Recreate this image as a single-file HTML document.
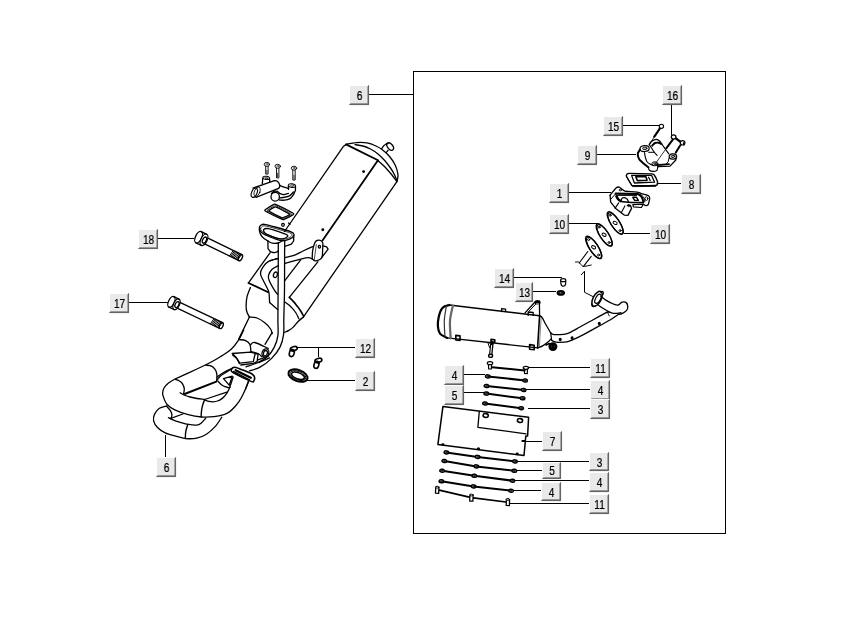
<!DOCTYPE html>
<html><head><meta charset="utf-8"><title>Exhaust</title>
<style>
html,body{margin:0;padding:0;background:#fff;}
body{width:854px;height:620px;overflow:hidden;position:relative;font-family:"Liberation Sans",Arial,sans-serif;}
svg{position:absolute;left:0;top:0;}
.d path,.d line,.d ellipse,.d circle,.d polyline,.d polygon,.d rect{fill:none;stroke:#000;stroke-width:1.3;stroke-linecap:round;stroke-linejoin:round}
</style></head><body>
<svg width="854" height="620" viewBox="0 0 854 620">
<rect x="413.5" y="71.5" width="312" height="462" fill="none" stroke="#000" stroke-width="1"/>
<g stroke="#000" stroke-width="1" shape-rendering="crispEdges">
<line x1="369" y1="94.5" x2="413" y2="94.5"/>
<line x1="158" y1="238.5" x2="194" y2="238.5"/>
<line x1="129" y1="302.5" x2="168" y2="302.5"/>
<line x1="296" y1="347.5" x2="355" y2="347.5"/>
<line x1="318.5" y1="347" x2="318.5" y2="357"/>
<line x1="307" y1="380.5" x2="355" y2="380.5"/>
<line x1="165.5" y1="435" x2="165.5" y2="457"/>
<line x1="671.5" y1="105" x2="671.5" y2="135"/>
<line x1="623" y1="125.5" x2="659" y2="125.5"/>
<line x1="597" y1="154.5" x2="636" y2="154.5"/>
<line x1="658" y1="183.5" x2="681" y2="183.5"/>
<line x1="569" y1="192.5" x2="611" y2="192.5"/>
<line x1="569" y1="223.5" x2="599" y2="223.5"/>
<line x1="624" y1="233.5" x2="650" y2="233.5"/>
<line x1="514" y1="277.5" x2="562" y2="277.5"/>
<line x1="533" y1="291.5" x2="556" y2="291.5"/>
<line x1="464" y1="374.5" x2="485" y2="374.5"/>
<line x1="464" y1="392.5" x2="484" y2="392.5"/>
<line x1="529" y1="367.5" x2="590" y2="367.5"/>
<line x1="526" y1="389.5" x2="590" y2="389.5"/>
<line x1="528" y1="408.5" x2="590" y2="408.5"/>
<line x1="526" y1="441.5" x2="542" y2="441.5"/>
<line x1="517" y1="461.5" x2="589" y2="461.5"/>
<line x1="516" y1="470.5" x2="542" y2="470.5"/>
<line x1="515" y1="480.5" x2="589" y2="480.5"/>
<line x1="513" y1="490.5" x2="541" y2="490.5"/>
<line x1="510" y1="503.5" x2="589" y2="503.5"/>
</g>
<g class="d">
<path d="M346,144.6 L343.6,146.2 L284.5,231.5"/>
<path d="M346,144.4 L378,160.3" style="stroke-width:1.8"/>
<path d="M377.8,160.6 L322.5,240.4" style="stroke-width:1.8"/>
<path d="M346,144.4 C347.7,144.1 352.5,142.8 356,142.6 C359.5,142.3 363.7,142.3 367,142.9 C370.3,143.5 373.3,144.8 376,146 C378.7,147.2 380.7,148.4 383,150.2 C385.3,152 387.9,154.4 390,157 C392.1,159.6 394.2,162.9 395.5,165.7 C396.8,168.5 397.5,171.8 397.9,174 C398.2,176.2 397.8,177.7 397.6,179 C397.4,180.3 397,181.2 396.9,181.6"/>
<path d="M355,144.6 C356.3,144.8 360.4,145.3 363,146 C365.6,146.7 368,147.7 370.5,149 C373,150.3 375.7,152.1 378,154 C380.3,155.9 382.4,158 384.5,160.3 C386.6,162.6 388.8,165.6 390.5,168 C392.2,170.4 393.5,172.8 394.5,174.8 C395.5,176.8 396.2,179 396.6,179.8"/>
<path d="M378,160.6 C379,161.5 382.2,164.2 384,166 C385.8,167.8 387.4,169.7 389,171.5 C390.6,173.3 392.2,175.3 393.5,177 C394.8,178.7 396.2,180.8 396.8,181.6"/>
<path d="M396.9,181.6 L303.3,317.2"/>
<path d="M381.6,148.8 C382,148.2 383.1,146.4 384,145.5 C384.9,144.6 386.5,143.8 387,143.4"/>
<ellipse cx="390.2" cy="146.6" rx="2.6" ry="4.2" transform="rotate(-38 390.2 146.6)"/>
<path d="M388,150.3 L386.2,152.6"/>
<path d="M388.5,143 C388.3,143.1 387.6,143.1 387.2,143.3 C386.8,143.5 386.4,144.2 386.3,144.4"/>
<ellipse cx="363.6" cy="171.6" rx="0.8" ry="0.8" style="fill:#000;"/>
<ellipse cx="322.8" cy="229.8" rx="0.8" ry="0.8" style="fill:#000;"/>
<path d="M312.2,258.8 C312.3,257.5 312.2,253.6 312.6,251 C313,248.4 313.9,244.9 314.6,243.2 C315.3,241.5 315.9,241.1 316.6,240.6 C317.3,240.1 318.2,240 319,240.1 C319.8,240.2 320.9,240.4 321.5,241 C322.1,241.6 322.6,241.9 322.8,243.4 C323,244.9 322.7,247.9 322.6,250 C322.5,252.1 322.6,254.4 322.3,255.9 C322,257.4 321.8,258 320.9,258.8 C320,259.6 318.1,260.3 317,260.6 C315.9,260.9 315.2,260.9 314.4,260.6 C313.6,260.3 312.6,259.1 312.2,258.8"/>
<path d="M314.3,259.5 L316.3,244.5" style="stroke-width:0.7"/>
<path d="M323.3,245.8 L326.6,246.8 L328.1,249.2 L322,257.2"/>
<ellipse cx="319.4" cy="246.8" rx="1.1" ry="1.4"/>
<path d="M312.6,246.6 C311,247.3 306.1,249.5 303,251 C299.9,252.5 297,254.3 294,255.4 C291,256.5 286.5,257.2 285,257.6"/>
<path d="M312.2,258.8 C311.6,258.6 310.1,257.7 308.4,257.7 C306.6,257.7 304.3,258.2 301.7,258.8 C299.1,259.4 295.8,260.2 293,261 C290.2,261.8 286.3,262.9 285,263.3"/>
<path d="M278,258.4 C277.3,258.6 275.3,259.1 274,259.5 C272.7,259.9 270.7,260.6 270,260.8"/>
<path d="M278.3,250.5 C278.3,257.1 278.2,278.4 278.1,290 C278,301.6 277.9,312.4 277.9,320 C277.9,327.6 278.5,331.2 277.9,335.7 C277.3,340.2 276.1,343.5 274.3,347.1 C272.5,350.7 270,354.5 267.1,357.1 C264.2,359.7 260.6,361.3 257.1,362.9 C253.6,364.5 247.8,366.2 246,366.9"/>
<path d="M284.6,249 C284.6,255.8 284.6,278.2 284.5,290 C284.4,301.8 283.9,312.6 283.8,320 C283.7,327.4 284.2,329.8 283.6,334.3 C283,338.8 282,343.1 280,347.1 C278,351.2 274.7,355.3 271.4,358.6 C268.1,361.9 263.6,365.1 260,367.1 C256.4,369.2 251.2,370.3 249.5,370.9"/>
<path d="M300.7,259.8 L284.8,280.6"/>
<path d="M318,261.7 L289.3,297.4"/>
<path d="M289.3,297.4 C290,298.1 292.1,300.1 293.5,301.6 C294.9,303.1 296.2,304.9 297.5,306.5 C298.8,308.1 300,309.9 301,311.5 C302,313.1 303.2,315.6 303.7,316.4" style="stroke-width:1.6"/>
<path d="M285.2,302.2 C285.8,302.7 287.8,303.9 289,305 C290.2,306.1 291.4,307.3 292.6,308.6 C293.8,309.9 294.9,311.3 296,313 C297.1,314.7 298.4,317.8 298.9,318.7"/>
<path d="M303.3,317.2 C302.5,317.9 300.1,319.5 298.4,321.2 C296.7,322.9 294.6,325.8 293,327.4 C291.4,329 289.9,329.8 288.5,330.6 C287.1,331.4 285.2,332 284.5,332.3"/>
<path d="M284.5,231.5 L270.2,252.5" opacity="0"/>
<path d="M270,252.9 L248.5,282.8"/>
<path d="M248.5,283 L268.2,292.2" style="stroke-width:1.8"/>
<path d="M277.9,258.6 C276.3,259.1 271.1,260 268.6,261.4 C266.1,262.8 264.2,265 262.9,267.1 C261.5,269.2 260.4,271.4 260.5,273.8 C260.6,276.2 262.5,278.8 263.8,281.5 C265.1,284.2 267.3,288 268.2,290.2 C269.1,292.4 269,292.4 269.2,294.5 C269.4,296.6 269.5,301.2 269.6,302.6"/>
<path d="M269.6,302.6 L277.6,309.6"/>
<path d="M278.2,265.7 C277.2,266.3 273.7,267.7 272.1,269.3 C270.5,270.9 269,273.5 268.5,275.4 C268,277.3 268.3,278.3 269.3,280.8 C270.3,283.3 273,287.9 274.4,290.2 C275.8,292.5 277.1,293.7 277.6,294.4"/>
<ellipse cx="275.4" cy="274.8" rx="1.9" ry="2.8" transform="rotate(18 275.4 274.8)"/>
<path d="M250.4,287.6 C249.8,289.2 247.7,293.8 247,296.9 C246.3,300 246.1,303.9 246.1,306.5 C246.1,309.1 246.4,310.4 247,312.2 C247.6,313.9 249,316.2 249.4,317"/>
<path d="M249.4,317 C250.7,317.2 254.5,317 257.1,318 C259.7,319 262.6,321 264.8,322.8 C267.1,324.6 269.4,327.2 270.6,329 C271.8,330.8 271.9,332.8 272.2,333.6"/>
<path d="M249.4,317 L238.6,339.4"/>
<path d="M272.1,332.6 L265,344.3"/>
<path d="M243.7,330 C242.9,331.6 241,336.4 238.9,339.6 C236.8,342.8 234.1,346.5 231.2,349.2 C228.3,351.9 224.9,353.8 221.6,355.9 C218.3,358 216.7,359.2 211.3,362 C205.9,364.8 195.1,369.9 189.2,372.6 C183.3,375.4 179.4,376.8 176,378.5 C172.6,380.2 170.5,381.4 168.5,383 C166.5,384.6 165,386.3 164,388 C163,389.7 162.7,391.4 162.6,393 C162.5,394.6 162.9,395.9 163.7,397.8 C164.4,399.7 165.2,402.5 167.1,404.5 C168.9,406.5 171.3,408.1 174.8,409.8 C178.3,411.5 183.7,413.4 188.2,414.6 C192.7,415.8 197.3,416.6 201.6,417 C205.9,417.4 210.4,417.1 214.1,416.7 C217.8,416.3 221.4,415.4 224,414.6 C226.6,413.8 227.7,413.2 229.5,411.9 C231.3,410.6 233.2,408.6 234.8,406.8 C236.4,405.1 237.7,403.4 239.1,401.4 C240.5,399.3 241.9,396.8 243,394.5 C244.1,392.2 245,390.1 245.9,387.9 C246.8,385.7 248,382.3 248.4,381.2"/>
<path d="M206,365.2 C206.7,365.3 208.8,365.2 210,365.6 C211.2,366 212.2,366.4 213.2,367.3 C214.2,368.2 215.4,369.6 216,371 C216.6,372.4 216.9,374.3 217,376 C217.1,377.7 216.7,380.5 216.6,381.4"/>
<path d="M175.5,379.3 C176.2,379.6 178.3,380.3 179.5,381 C180.7,381.7 181.6,382.3 182.4,383.6 C183.2,384.9 184.1,386.9 184.3,388.6 C184.5,390.3 183.7,392.8 183.6,393.6"/>
<path d="M184.6,394 L216.3,381.6" style="stroke-width:2"/>
<path d="M180.1,392.7 C180.8,393.1 182.3,394.3 184,395 C185.7,395.7 187.9,396.4 190.1,397 C192.3,397.6 194.6,398.1 197,398.5 C199.4,398.9 203.3,399.3 204.6,399.5"/>
<path d="M204.6,399.5 L226.8,392.2"/>
<path d="M204.6,399.9 C205.3,400.1 207.6,401.1 209,401.4 C210.4,401.7 211.8,401.9 213.2,401.8 C214.6,401.7 216.2,401.4 217.5,401 C218.8,400.6 219.8,400.1 220.9,399.4 C222,398.7 223.1,397.8 224,396.8 C224.9,395.9 225.8,394.9 226.6,393.7 C227.4,392.5 228.2,391.1 228.8,389.6 C229.5,388.2 230,386.5 230.5,385 C231,383.5 231.6,381.8 232,380.5 C232.4,379.2 233,377.6 233.2,377"/>
<path d="M217,380.2 C217.5,379.6 218.5,377.7 219.9,376.4 C221.3,375.1 223.4,373.9 225.5,372.6 C227.6,371.3 231.2,369.2 232.4,368.5"/>
<path d="M218,381.2 C218.6,381.8 220.6,384.1 221.8,385 C223,385.9 223.9,386.2 225,386.6 C226.1,387 227.4,387.5 228.3,387.6 C229.2,387.7 229.9,387.3 230.2,387.2"/>
<path d="M223.5,378.6 L232.3,376.2 L229.2,385.2 Z" style="fill:none"/>
<path d="M204.6,399.9 C204.3,400.6 203.4,402.8 203,404 C202.6,405.2 202.4,406.1 202.1,407.4 C201.8,408.7 201.6,410.4 201.4,412 C201.2,413.6 201.2,416 201.2,416.8" style="stroke-width:1.4"/>
<path d="M166.6,405.9 C165.4,406.3 161.4,406.9 159.4,408.3 C157.4,409.7 155.6,412 154.6,414.1 C153.6,416.2 153.1,418.6 153.6,420.8 C154.1,423 155.6,425.5 157.5,427.5 C159.4,429.5 162.2,431.4 165.2,432.8 C168.2,434.2 172.2,435.2 175.7,436.2 C179.2,437.2 182.8,438.3 186.3,438.6 C189.8,438.9 193.5,438.8 196.8,438.1 C200.2,437.4 203.4,436.1 206.4,434.2 C209.4,432.3 212.5,429.4 215.1,426.6 C217.7,423.8 220.7,418.8 221.8,417.2"/>
<path d="M166.6,406.2 C167.2,406.9 169.5,409.2 170.4,410.7 C171.3,412.2 171.9,413.7 171.9,415 C171.9,416.3 171.2,418 170.6,418.4 C170,418.8 168.8,417.7 168.4,417.6"/>
<path d="M170.4,418.9 C171.4,419.3 173.9,420.4 176.7,421.3 C179.5,422.2 183.8,423.6 187.2,424.2 C190.5,424.8 194.4,425.4 196.8,425.1 C199.2,424.9 200.1,423.9 201.6,422.7 C203.1,421.5 205,418.9 205.7,418.2"/>
<path d="M170.9,418.4 L182.9,414"/>
<path d="M187.7,424.6 C187.4,425.7 186.2,429.1 185.8,431.4 C185.4,433.7 185.4,437.4 185.3,438.6" style="stroke-width:1.4"/>
<path d="M239.4,339.6 C240.4,339.8 243.8,339.8 245.6,340.6 C247.3,341.4 249,342.6 249.9,344.4 C250.8,346.2 250.7,350.2 250.9,351.4"/>
<path d="M250.9,344.6 C251.5,344.2 251.8,341.9 254.7,342.5 C257.6,343.1 265.9,347.4 268.2,348.4"/>
<ellipse cx="265.4" cy="353" rx="3.3" ry="4.3" transform="rotate(20 265.4 353)"/>
<ellipse cx="265.4" cy="353.2" rx="1.9" ry="2.7" transform="rotate(20 265.4 353.2)"/>
<path d="M250.9,351.6 C252.1,351.9 256.3,352.7 258.1,353.5 C259.9,354.3 261,356.1 261.6,356.6"/>
<path d="M232.2,353.5 L250.4,352.1 L255.2,353.5 L253.3,361.7 L239.8,363.1 L236.5,357.8 Z"/>
<path d="M255.2,353.5 L258.1,354 L257.1,361.7 L253.3,363.3 L240.8,365"/>
<path d="M232.6,355 C233.3,355.6 235.9,357.4 237,358.8 C238.1,360.2 239,362.8 239.4,363.6"/>
<path d="M258.1,359.8 L268.6,355.9"/>
<path d="M258.6,362.6 L269.6,357.8"/>
<path d="M232.6,367.9 C233.1,367.6 234,366.8 236,367.4 C238,368 250.4,373.1 252.3,374.2 C254.2,375.3 254.6,377.2 254.7,378 C254.8,378.8 253.8,381.5 253.3,381.8 C252.8,382.1 252,381.9 249.9,380.9 C247.8,379.9 234.5,373.3 232.6,372.2 C230.7,371.1 231.2,370.7 231.2,370.3 C231.2,369.9 232.1,368.2 232.6,367.9 Z" style="stroke-width:1.6"/>
<path d="M235.6,370.2 L250.8,377.8" style="stroke-width:2.2"/>
<path d="M233.4,371.4 L249.6,379.8" style="stroke-width:1.2"/>
<path d="M216.9,377 C218.1,376.2 221.4,373.6 224,372.2 C226.6,370.8 230.8,369 232.2,368.4"/>
<path d="M248.5,381.8 L245.6,389"/>
<path d="M202.5,242.8 L239,260.6"/>
<path d="M205.4,236.9 L241.8,254.6"/>
<ellipse cx="240.4" cy="257.6" rx="1.8" ry="3.3" transform="rotate(26 240.4 257.6)"/>
<path d="M229.5,256 L233.3,250.5" style="stroke-width:1.0"/>
<path d="M230.7,256.5 L234.5,251" style="stroke-width:1.0"/>
<path d="M231.9,257.1 L235.6,251.6" style="stroke-width:1.0"/>
<path d="M233,257.7 L236.8,252.2" style="stroke-width:1.0"/>
<path d="M234.2,258.2 L238,252.7" style="stroke-width:1.0"/>
<path d="M235.4,258.8 L239.2,253.3" style="stroke-width:1.0"/>
<path d="M236.5,259.4 L240.3,253.9" style="stroke-width:1.0"/>
<path d="M237.7,260 L241.5,254.5" style="stroke-width:1.0"/>
<ellipse cx="198.6" cy="237.2" rx="3.1" ry="6.2" transform="rotate(26 198.6 237.2)"/>
<ellipse cx="204" cy="239.8" rx="3.1" ry="6.2" transform="rotate(26 204 239.8)" style="fill:#fff;"/>
<ellipse cx="204.5" cy="240.1" rx="1.8" ry="3.3" transform="rotate(26 204.5 240.1)"/>
<path d="M195.9,242.8 L201.3,245.4"/>
<path d="M201.3,231.6 L206.7,234.3"/>
<path d="M175.1,307.2 L219.8,328.5"/>
<path d="M177.8,301.4 L222.6,322.7"/>
<ellipse cx="221.2" cy="325.6" rx="1.8" ry="3.2" transform="rotate(25.4 221.2 325.6)"/>
<path d="M210.3,324 L214,318.6" style="stroke-width:1.0"/>
<path d="M211.5,324.5 L215.2,319.2" style="stroke-width:1.0"/>
<path d="M212.7,325.1 L216.3,319.7" style="stroke-width:1.0"/>
<path d="M213.9,325.7 L217.5,320.3" style="stroke-width:1.0"/>
<path d="M215,326.2 L218.7,320.9" style="stroke-width:1.0"/>
<path d="M216.2,326.8 L219.9,321.4" style="stroke-width:1.0"/>
<path d="M217.4,327.3 L221,322" style="stroke-width:1.0"/>
<path d="M218.6,327.9 L222.2,322.5" style="stroke-width:1.0"/>
<ellipse cx="171.4" cy="301.9" rx="2.9" ry="5.8" transform="rotate(25.4 171.4 301.9)"/>
<ellipse cx="176.5" cy="304.3" rx="2.9" ry="5.8" transform="rotate(25.4 176.5 304.3)" style="fill:#fff;"/>
<ellipse cx="177" cy="304.6" rx="1.8" ry="3.2" transform="rotate(25.4 177 304.6)"/>
<path d="M168.9,307.1 L174,309.5"/>
<path d="M173.9,296.7 L178.9,299.1"/>
<path d="M259.3,228.2 C259.2,227 259.9,226 260.8,225.3 C261.7,224.7 262.1,224 264.5,224.3 C266.9,224.6 270.6,225.8 275,227 C279.4,228.2 287.8,230.5 291,231.8 C294.2,233.1 293.8,233.6 294,234.6 C294.2,235.6 293.4,236.7 292.2,237.6 C290.9,238.5 288.4,239.7 286.5,240.2 C284.6,240.7 283.9,241.1 281.1,240.6 C278.4,240.1 273.3,238.3 270,237 C266.7,235.7 263.3,234.1 261.5,232.6 C259.7,231.1 259.4,229.4 259.3,228.2 Z" style="stroke-width:1.3"/>
<path d="M263.8,229.4 C264.4,228.7 266.6,228.4 268.5,228.6 C270.4,228.8 272.9,229.8 275.5,230.6 C278.1,231.4 281.9,232.8 284,233.6 C286.1,234.4 287.5,234.9 287.8,235.6 C288.1,236.3 287.1,237.2 286,237.8 C284.9,238.4 283.1,238.8 281.5,238.9 C279.9,239 278.7,238.8 276.5,238.2 C274.3,237.6 270.5,236.1 268.5,235.2 C266.5,234.3 265.4,233.6 264.6,232.6 C263.8,231.6 263.2,230.1 263.8,229.4 Z"/>
<path d="M259.3,229.5 C259.4,230.2 259.6,232.3 260.2,233.6 C260.8,234.9 261.3,236 262.6,237.2 C263.9,238.4 267,240.4 267.9,241"/>
<path d="M267.9,241 L268,248.6 L270.3,251.6"/>
<path d="M270.3,251.6 C271,251.8 273.2,252.7 274.5,252.6 C275.8,252.5 277.7,251.4 278.3,251.2"/>
<path d="M278.3,243 L278.3,251.2"/>
<path d="M293.8,235.6 L293.6,241 L291.4,244.2 L284.8,246.4"/>
<path d="M267.9,241 C268.7,241.4 270.8,242.9 272.5,243.2 C274.2,243.5 276.8,243.4 278.3,243 C279.8,242.6 281,241.3 281.5,241"/>
<path d="M284.7,241.5 L284.7,248.8"/>
<path d="M260.6,228.6 C260.5,227.7 261.3,227 262,226.6 C262.7,226.2 262.8,225.6 265,225.9 C267.2,226.2 270.9,227.2 275,228.4 C279.1,229.6 286.8,231.7 289.6,232.8 C292.4,233.9 291.8,234.1 292,234.8 C292.2,235.5 291.6,236.1 290.6,236.8 C289.6,237.5 287.4,238.5 285.8,238.9 C284.2,239.3 283.7,239.7 281.2,239.2 C278.7,238.7 273.7,237 270.6,235.8 C267.5,234.6 264.3,233 262.6,231.8 C260.9,230.6 260.7,229.5 260.6,228.6 Z" style="stroke-width:0.8"/>
<path d="M265.5,211.2 C264.1,210.4 265.2,209.9 265.9,209.3 C266.6,208.8 272.6,205 273.4,204.6 C274.2,204.2 274,203.6 275.6,204.3 C277.2,205 290.9,211.9 292.4,212.8 C293.9,213.7 294,214.1 293.4,214.6 C292.8,215.1 285.5,218.8 284.6,219.2 C283.7,219.6 284,220.1 282.4,219.4 C280.8,218.7 266.9,212 265.5,211.2 Z" style="stroke-width:1.3"/>
<path d="M269.3,211.2 C268.3,210.6 269.4,210.2 269.8,209.9 C270.2,209.6 274.1,207.4 274.6,207.2 C275.1,207 275,206.7 276.2,207.2 C277.4,207.7 287.7,213 288.8,213.6 C289.9,214.2 289.9,214.5 289.4,214.8 C288.9,215.1 283.8,217.4 283.2,217.6 C282.6,217.8 282.8,218.1 281.6,217.6 C280.4,217.1 270.3,211.8 269.3,211.2 Z"/>
<path d="M267.4,211.2 C266.2,210.5 267.3,210.2 267.9,209.8 C268.4,209.4 273.3,206.3 274,206 C274.7,205.7 274.5,205.2 275.9,205.8 C277.3,206.4 289.3,212.5 290.6,213.2 C291.9,213.9 292,214.3 291.4,214.7 C290.8,215.1 284.7,218.1 283.9,218.4 C283.1,218.7 283.4,219.1 282,218.5 C280.6,217.9 268.6,211.9 267.4,211.2 Z" style="stroke-width:0.8"/>
<ellipse cx="283" cy="224.8" rx="1.3" ry="1.5"/>
<path d="M288.6,223 L290,224.4"/>
<ellipse cx="254.3" cy="192.7" rx="2.7" ry="4.9" transform="rotate(22 254.3 192.7)" style="stroke-width:1.1;"/>
<ellipse cx="257.2" cy="191.6" rx="2.7" ry="4.9" transform="rotate(22 257.2 191.6)" style="stroke-width:0.8;"/>
<path d="M253,188.1 L274.4,180.6"/>
<path d="M256,197.4 L278,188.6"/>
<path d="M274.4,180.6 C274.9,180.7 276.7,180.7 277.6,181.4 C278.5,182.1 279.3,183.6 279.6,184.6 C279.9,185.6 279.7,186.7 279.4,187.4 C279.1,188.1 278.2,188.4 278,188.6"/>
<path d="M262.3,183.6 L262.8,178.2"/>
<ellipse cx="266.2" cy="177.9" rx="3.4" ry="1.6" transform="rotate(8 266.2 177.9)" style="stroke-width:1.0;"/>
<path d="M269.6,178.6 L269.7,181.6"/>
<ellipse cx="266.2" cy="178" rx="1.5" ry="0.7" transform="rotate(8 266.2 178)" style="stroke-width:0.6;"/>
<ellipse cx="291.9" cy="185.6" rx="3.6" ry="1.8" transform="rotate(8 291.9 185.6)" style="stroke-width:1.0;"/>
<ellipse cx="291.9" cy="185.6" rx="1.6" ry="0.8" transform="rotate(8 291.9 185.6)" style="stroke-width:0.6;"/>
<path d="M288.3,186 L288.6,189.4"/>
<path d="M295.5,186 L295.4,190.5 L293.6,194.5"/>
<path d="M279.6,185.4 C280.3,185.7 282.5,186.7 284,187.2 C285.5,187.7 287.7,188.4 288.4,188.6"/>
<path d="M293.6,194.5 C293,195.2 291.5,197.7 290,198.6 C288.5,199.5 286.2,200 284.5,200.2 C282.8,200.4 280.3,200 279.5,200"/>
<path d="M280,198 C280.8,197.9 283.4,197.6 285,197.2 C286.6,196.8 288.4,196.5 289.8,195.6 C291.2,194.7 292.8,192.6 293.4,192"/>
<ellipse cx="275.2" cy="196.8" rx="4.2" ry="4.4"/>
<path d="M271.5,193.6 C271.9,193.2 273,191.8 274,191.4 C275,191 276.5,191 277.4,191.4 C278.3,191.8 279.2,193.2 279.6,193.6"/>
<path d="M279.4,193.2 C280.1,193.4 282,194.6 283.5,194.6 C285,194.6 287.6,193.6 288.4,193.4"/>
<ellipse cx="266.9" cy="164.4" rx="2.7" ry="2" style="stroke-width:0.9;fill:#fff;"/>
<ellipse cx="266.9" cy="164.2" rx="1.1" ry="0.7" style="stroke-width:0.5;"/>
<path d="M265.7,166.3 L265.7,174 L268.1,174 L268.1,166.3" style="stroke-width:0.9"/>
<path d="M266.9,170.4 L266.9,173.7" style="stroke-width:1.4;stroke:#555"/>
<ellipse cx="277.7" cy="166.3" rx="2.7" ry="2" style="stroke-width:0.9;fill:#fff;"/>
<ellipse cx="277.7" cy="166.1" rx="1.1" ry="0.7" style="stroke-width:0.5;"/>
<path d="M276.5,168.2 L276.5,177.9 L278.9,177.9 L278.9,168.2" style="stroke-width:0.9"/>
<path d="M277.7,173.5 L277.7,177.6" style="stroke-width:1.4;stroke:#555"/>
<ellipse cx="294" cy="168.2" rx="2.7" ry="2" style="stroke-width:0.9;fill:#fff;"/>
<ellipse cx="294" cy="168" rx="1.1" ry="0.7" style="stroke-width:0.5;"/>
<path d="M292.8,170.1 L292.8,180 L295.2,180 L295.2,170.1" style="stroke-width:0.9"/>
<path d="M294,175.5 L294,179.7" style="stroke-width:1.4;stroke:#555"/>
<ellipse cx="293.8" cy="348.6" rx="3.6" ry="2" transform="rotate(-15 293.8 348.6)" style="stroke-width:1.6;"/>
<ellipse cx="291.8" cy="353" rx="2.4" ry="3.6" transform="rotate(15 291.8 353)" style="stroke-width:1.6;"/>
<path d="M291.1,350.4 L294.6,351.8" style="stroke-width:1.2"/>
<ellipse cx="318.4" cy="360.4" rx="3.6" ry="2" transform="rotate(-15 318.4 360.4)" style="stroke-width:1.6;"/>
<ellipse cx="316.4" cy="364.8" rx="2.4" ry="3.6" transform="rotate(15 316.4 364.8)" style="stroke-width:1.6;"/>
<path d="M315.7,362.2 L319.2,363.6" style="stroke-width:1.2"/>
<ellipse cx="298" cy="375.6" rx="10" ry="5.6" transform="rotate(20 298 375.6)" style="stroke-width:1.9;"/>
<ellipse cx="298" cy="375.8" rx="6.8" ry="3.1" transform="rotate(20 298 375.8)" style="stroke-width:1.5;"/>
<ellipse cx="298" cy="375.7" rx="8.4" ry="4.3" transform="rotate(20 298 375.7)" style="stroke-width:0.9;"/><path d="M449.3,305 L539.6,315.7" style="stroke-width:1.4"/>
<path d="M447.1,337.9 L537.9,347.9" style="stroke-width:1.4"/>
<path d="M449.3,305 C448.1,305.5 444.1,306 442.4,307.9 C440.6,309.8 439.6,313.3 438.8,316.4 C438.1,319.5 437.7,323.5 437.9,326.4 C438.1,329.3 438.5,331.7 440,333.6 C441.5,335.5 445.9,337.2 447.1,337.9" style="stroke-width:2.2"/>
<path d="M446.4,306.2 C446,308.6 444.5,315.6 444.3,320.7 C444.1,325.8 444.9,334.3 445,337" style="stroke-width:1.2;stroke:#333"/>
<path d="M452.9,305.6 C452.4,308.1 450.4,315.2 450,320.7 C449.6,326.2 450.6,335.4 450.7,338.4" style="stroke-width:2.2;stroke:#666"/>
<path d="M539.6,315.7 L537.6,347.9" style="stroke-width:1.6"/>
<path d="M541.2,316.5 L539.4,346.6" style="stroke-width:0.8;stroke:#666"/>
<path d="M501.6,311.6 L501.6,308.6 L505.6,309.1 L505.6,311.6" style="stroke-width:1.3"/>
<path d="M528.2,315.4 L528.2,312 L533.2,312.5 L533.2,315.4" style="stroke-width:1.3"/>
<path d="M455.8,335.4 L455.8,340 L460,340.5 L460,335.9 Z" style="stroke-width:1.6"/>
<path d="M491,339.4 L491,341.8 L494.8,342.2 L494.8,339.8 Z" style="stroke-width:1.6"/>
<path d="M529.6,344.6 L529.6,349.2 L534.2,349.7 L534.2,345.2 Z" style="stroke-width:1.6"/>
<path d="M525,312.9 L535.2,301.8 L539.4,302.3 L539.6,315.7" style="stroke-width:1.3"/>
<path d="M529,311.2 L536.4,303.4" style="stroke-width:1.0"/>
<ellipse cx="537.6" cy="302.4" rx="2.2" ry="1.5" style="stroke-width:1.6;fill:#000;"/>
<path d="M536.5,304 L538.5,304" style="stroke-width:1.0;stroke:#fff"/>
<path d="M489.6,342.5 L491,345.5" style="stroke-width:1.0"/>
<path d="M492,343 L490.6,356" style="stroke-width:3.4"/>
<path d="M491.6,345.5 L490.7,354.5" style="stroke-width:1.0;stroke:#fff"/>
<ellipse cx="490.6" cy="355.8" rx="2" ry="1.6" style="stroke-width:1.4;fill:#fff;"/>
<path d="M488,343 L489.6,347.6" style="stroke-width:1.0"/>
<path d="M539.6,315.7 C540,316 541.2,316.2 542.2,317.6 C543.2,319 544.3,321.8 545.7,324.3 C547.1,326.9 549.9,331.5 550.7,332.9" style="stroke-width:1.3"/>
<path d="M550.7,332.9 C551.1,333.1 551.7,334.1 553,334.4 C554.3,334.7 556.2,334.7 558.6,334.6 C561,334.5 564,334.6 567.1,333.6 C570.2,332.6 573.1,330.8 577.1,328.6 C581.1,326.5 586.4,323.4 591.4,320.7 C596.4,317.9 604.5,313.5 607.1,312.1" style="stroke-width:1.3"/>
<path d="M537.9,347.9 C538.8,347.5 541.2,346.7 543,345.6 C544.8,344.5 547.2,342.6 548.6,341.4 C550,340.2 550.9,339.1 551.4,338.6" style="stroke-width:1.3"/>
<path d="M551.4,340 C551.8,340.3 552.8,341.2 554,341.6 C555.2,342 556.2,342.3 558.6,342.3 C561,342.3 565.3,342.3 568.6,341.4 C571.9,340.5 574.3,339.2 578.6,337.1 C582.9,335 589.1,331.5 594.3,328.6 C599.5,325.8 606,322.4 610,320 C614,317.6 617.2,315.2 618.6,314.3" style="stroke-width:1.3"/>
<path d="M550.7,332.9 L551.6,340" style="stroke-width:1.2"/>
<path d="M600.9,296.3 C601.9,297 604.6,299.3 606.7,300.6 C608.8,301.9 611.5,303.3 613.4,304 C615.3,304.7 616.8,305.3 618.2,305 C619.6,304.7 620.7,302.5 622,302.1 C623.3,301.7 624.9,301.7 625.9,302.4 C626.9,303.1 627.7,305 627.8,306.4 C627.9,307.8 627.4,309.5 626.4,310.7 C625.4,311.9 623.3,313 622,313.6 C620.7,314.2 619.2,314.2 618.6,314.3" style="stroke-width:1.3"/>
<path d="M598,305 C599,305.6 601.9,307.6 603.8,308.8 C605.7,310 608,311.4 609.6,312.2 C611.2,313 612.1,313.2 613.4,313.4 C614.7,313.6 615.9,313.4 617.2,313.3 C618.5,313.2 620.4,312.7 621,312.6" style="stroke-width:1.3"/>
<path d="M607.1,312.1 L609.6,312.2" style="stroke-width:1.2"/>
<path d="M607.6,312.6 L609.4,316" style="stroke-width:0.9"/>
<ellipse cx="597.1" cy="298.8" rx="4" ry="8.2" transform="rotate(28 597.1 298.8)" style="stroke-width:1.5;"/>
<path d="M600.4,292.2 C600.7,292.1 601.7,291.3 602.2,291.4 C602.7,291.5 603.3,292.1 603.4,292.6 C603.5,293.1 603.1,294.3 603,294.6" style="stroke-width:1.1"/>
<path d="M591.6,303.6 C591.7,304 591.6,305.5 592,306 C592.4,306.5 593.2,306.7 593.8,306.6 C594.4,306.5 595.1,305.8 595.4,305.6" style="stroke-width:1.1"/>
<ellipse cx="598" cy="298.8" rx="2.4" ry="5" transform="rotate(28 598 298.8)" style="stroke-width:1.2;"/>
<ellipse cx="599.3" cy="323.6" rx="0.9" ry="1.1" style="fill:#000;"/>
<ellipse cx="572.1" cy="337.9" rx="0.9" ry="1.1" style="fill:#000;"/>
<ellipse cx="560.2" cy="339.6" rx="0.9" ry="1.1" style="fill:#000;"/>
<ellipse cx="552.9" cy="346.6" rx="3.2" ry="3" style="stroke-width:2.6;fill:#555;"/>
<ellipse cx="552.9" cy="346.6" rx="1" ry="1" style="fill:#000;"/>
<path d="M546,345 L549.5,343.5" style="stroke-width:1.6"/>
<path d="M581.3,274.8 L584.5,271.2 L584.5,292.3 L593.4,296.8" style="stroke-width:1.0"/>
<ellipse cx="563.2" cy="280.2" rx="2.6" ry="1.5" style="stroke-width:1.2;"/>
<path d="M560.8,281 C560.8,281.5 560.8,283.2 561,284 C561.2,284.8 561.6,285.4 562,285.8 C562.4,286.2 562.9,286.2 563.4,286.2 C563.9,286.2 564.4,286 564.8,285.6 C565.2,285.2 565.5,284.4 565.6,283.6 C565.8,282.8 565.7,281.4 565.7,281" style="stroke-width:1.2"/>
<ellipse cx="560.8" cy="292.9" rx="3.4" ry="2" style="stroke-width:1.6;fill:#222;"/>
<ellipse cx="560.8" cy="292.6" rx="1.2" ry="0.6" style="stroke-width:0.6;fill:#fff;"/>
<ellipse cx="615.1" cy="222.9" rx="12.9" ry="4.3" transform="rotate(57 615.1 222.9)" style="stroke-width:1.4;"/>
<ellipse cx="615.7" cy="223.6" rx="12.6" ry="4.3" transform="rotate(57 615.7 223.6)" style="stroke-width:1.0;"/>
<ellipse cx="615.1" cy="222.9" rx="2.2" ry="1.4" transform="rotate(27 615.1 222.9)" style="stroke-width:1.0;"/>
<ellipse cx="610.1" cy="215.2" rx="1.1" ry="0.9" style="stroke-width:1.0;"/>
<ellipse cx="620.1" cy="230.6" rx="1.1" ry="0.9" style="stroke-width:1.0;"/>
<ellipse cx="604.1" cy="234.8" rx="12.9" ry="4.3" transform="rotate(57 604.1 234.8)" style="stroke-width:1.4;"/>
<ellipse cx="604.7" cy="235.5" rx="12.6" ry="4.3" transform="rotate(57 604.7 235.5)" style="stroke-width:1.0;"/>
<ellipse cx="604.1" cy="234.8" rx="2.2" ry="1.4" transform="rotate(27 604.1 234.8)" style="stroke-width:1.0;"/>
<ellipse cx="599.1" cy="227.1" rx="1.1" ry="0.9" style="stroke-width:1.0;"/>
<ellipse cx="609.1" cy="242.5" rx="1.1" ry="0.9" style="stroke-width:1.0;"/>
<ellipse cx="593.6" cy="247.3" rx="12.9" ry="4.3" transform="rotate(57 593.6 247.3)" style="stroke-width:1.5;"/>
<ellipse cx="594.2" cy="248" rx="12.6" ry="4.3" transform="rotate(57 594.2 248)" style="stroke-width:1.0;"/>
<ellipse cx="593.6" cy="247.3" rx="2.2" ry="1.4" transform="rotate(27 593.6 247.3)" style="stroke-width:1.0;"/>
<ellipse cx="588.6" cy="239.6" rx="1.1" ry="0.9" style="stroke-width:1.0;"/>
<ellipse cx="598.6" cy="255" rx="1.1" ry="0.9" style="stroke-width:1.0;"/>
<path d="M587.8,251.5 L579.2,263" style="stroke-width:1.1"/>
<path d="M591.2,256.3 L583.5,266.4" style="stroke-width:1.1"/>
<path d="M575.4,262.1 C575.7,262.1 577.9,261.7 578.7,262.1 C579.5,262.5 581.8,266.1 583,266.4 C584.2,266.7 590.4,265.1 591.2,265" style="stroke-width:1.0"/>
<ellipse cx="661.4" cy="126.3" rx="2.2" ry="2.1" style="stroke-width:1.1;"/>
<path d="M659.8,128.6 L654.3,136.6" style="stroke-width:2.2" stroke-dasharray="1.6 0.7"/>
<path d="M654.3,136.6 L649.5,144.6" style="stroke-width:0.8"/>
<path d="M675.2,137.9 L681.2,142.4" style="stroke-width:2.4"/>
<ellipse cx="673.6" cy="137" rx="2.3" ry="2.1" style="stroke-width:1.2;fill:#fff;"/>
<ellipse cx="682.6" cy="142.8" rx="2.3" ry="2.2" style="stroke-width:1.2;fill:#fff;"/>
<path d="M683.6,143 L684,144.6" style="stroke-width:1.6"/>
<path d="M672.8,139.6 L666.4,148.2" style="stroke-width:2.0"/>
<path d="M666.4,148.2 L656,162.8" style="stroke-width:0.8"/>
<path d="M680.3,145.2 L675.8,152.6" style="stroke-width:2.0"/>
<ellipse cx="644.6" cy="148.6" rx="4.6" ry="2.9" transform="rotate(-5 644.6 148.6)" style="stroke-width:1.2;"/>
<ellipse cx="644.8" cy="148.4" rx="2.2" ry="1.3" transform="rotate(-5 644.8 148.4)" style="stroke-width:0.9;fill:#bbb;"/>
<path d="M649.3,144.6 C649.6,144.1 650.2,142.5 651.4,141.6 C652.6,140.7 655,139.4 656.4,139.4 C657.8,139.4 659.1,140.6 660,141.4 C660.9,142.2 661.5,143.7 661.8,144.1" style="stroke-width:1.3"/>
<path d="M652.2,145.6 C652.7,145.2 653.9,143.5 655,143 C656.1,142.5 657.6,142.6 658.6,142.7 C659.6,142.8 660.4,143.6 660.8,143.8" style="stroke-width:2.0"/>
<path d="M661.8,144.1 L668.8,153.9" style="stroke-width:1.1"/>
<ellipse cx="672.9" cy="156.5" rx="3.7" ry="2.6" transform="rotate(-5 672.9 156.5)" style="stroke-width:1.2;"/>
<ellipse cx="673" cy="156.4" rx="1.8" ry="1.1" transform="rotate(-5 673 156.4)" style="stroke-width:0.9;fill:#bbb;"/>
<path d="M649.3,144.6 L654.3,152.3 L657.1,155.3" style="stroke-width:1.1"/>
<path d="M648.6,152.3 L654.3,152.3" style="stroke-width:1.0"/>
<path d="M640,149.6 C639.6,150.3 638,152.1 637.8,153.7 C637.6,155.2 638.2,157.4 639,158.9 C639.8,160.4 640.8,161 642.4,162.4 C644,163.8 647.4,166.5 648.4,167.3" style="stroke-width:2.0"/>
<path d="M644.6,152.6 C644.7,153.2 644.7,154.7 645.1,156.2 C645.5,157.7 646.1,160.5 647,161.8 C647.9,163.1 649.4,163.6 650.4,164.2 C651.4,164.8 652.6,165.4 653.1,165.6" style="stroke-width:1.1"/>
<path d="M648.4,167.5 C648.6,168 648.6,169.7 649.4,170.3 C650.2,171 651.9,171.4 653.1,171.4 C654.4,171.4 656.1,171.1 656.9,170.3 C657.7,169.5 657.6,167.1 657.8,166.5" style="stroke-width:1.2"/>
<ellipse cx="654.9" cy="163.8" rx="3" ry="2" style="stroke-width:1.0;"/>
<ellipse cx="654.9" cy="163.8" rx="1.3" ry="0.8" style="stroke-width:0.8;fill:#bbb;"/>
<path d="M657.8,166.5 L670,166.1 L675.6,160.2 L676.6,156.8" style="stroke-width:1.3"/>
<path d="M656.6,165.2 L669,164.2" style="stroke-width:1.8"/>
<path d="M669.2,157.6 L668.2,161.6 L666,164.2" style="stroke-width:1.0"/>
<path d="M626.4,176.2 C626,175.3 626.8,174.4 627,174.2 C627.2,174 627.3,173.4 629.4,173.4 C631.5,173.4 649.7,173.8 651.8,173.9 C653.9,174 653.7,174.4 654.2,175 C654.7,175.6 657.1,180.4 657.4,181.2 C657.6,181.9 657.4,183.7 657.2,184 C657.1,184.3 657.6,185.3 655.6,185.4 C653.6,185.5 635,185.7 633,185.6 C631,185.5 631.9,185.4 631.4,184.6 C630.9,183.8 626.8,177.1 626.4,176.2 Z" style="stroke-width:1.4"/>
<path d="M627,177.6 L632.4,186.6 L655.8,186.4 L657.6,184.6" style="stroke-width:0.9"/>
<path d="M631.6,175.4 L651.6,175.4 L654.6,182.2 L634.4,183 Z" style="stroke-width:1.3"/>
<path d="M635.8,176.8 L646,176.8 L647,180.2 L637.4,180.6 Z" style="stroke-width:1.6"/>
<path d="M648.6,177.2 L650.2,180.6" style="stroke-width:1.2"/>
<path d="M610.1,195.2 C610.5,194.7 615.7,188.3 616.3,187.8 C616.9,187.3 618.7,187 619.3,187.2 C619.9,187.4 623.7,190.9 624.9,191.2 C626.1,191.5 636,192 637.1,192.1 C638.2,192.2 640.1,193.1 640.8,193.3 C641.5,193.5 647.6,195.1 648.2,195.5 C648.8,195.9 649.7,198 649.7,198.6 C649.7,199.2 648.5,204.2 648.2,204.7 C647.9,205.2 646,205.6 645.7,205.6 C645.4,205.6 643.5,204.2 643.3,204.1" style="stroke-width:1.3"/>
<path d="M610.1,195.2 L610.7,202.2 L615.7,208.4 L624.2,215.1 L627.9,215.4 L631.6,208.4 L630.4,205.3 L627.3,205.3" style="stroke-width:1.3"/>
<path d="M632.8,204.7 L643.3,204.1 L641.4,207.5 L633.4,206.8 Z" style="stroke-width:1.2"/>
<path d="M615.7,193.7 L637.1,194" style="stroke-width:2.2"/>
<path d="M616.6,195.4 L636.6,195.4" style="stroke-width:1.0"/>
<path d="M615.7,193.7 L610.4,199.6" style="stroke-width:1.0"/>
<path d="M616.3,196.1 C616.5,196.4 619.2,200.6 620,201 C620.8,201.4 626.9,202.1 628.5,202.2 C630.1,202.3 642.3,202.5 643.3,202.5" style="stroke-width:1.6"/>
<path d="M616.4,196.4 C616.7,196.8 617.3,198.2 618,199 C618.7,199.8 620,200.7 620.4,201" style="stroke-width:2.4"/>
<path d="M621,200.6 C621.2,200.2 621.7,198.5 622.4,198 C623.1,197.5 624.4,197.6 625.2,197.8 C626,198 626.9,198.7 627.4,199.4 C627.9,200.1 628.3,201.6 628.5,202" style="stroke-width:1.2"/>
<path d="M632.8,197.3 L636.5,197.3 L638.4,200.4 L634.7,200.4 Z" style="stroke-width:1.4"/>
<path d="M637.1,193.7 C637.7,194.1 639.9,195.3 640.8,196.1 C641.7,196.9 642,197.7 642.4,198.6 C642.8,199.5 643.1,200.9 643.3,201.4" style="stroke-width:2.0"/>
<path d="M639.6,194 C640.2,194.4 642.4,195.7 643.2,196.6 C644,197.5 644.3,198.7 644.6,199.6 C644.9,200.5 644.8,201.6 644.8,202" style="stroke-width:1.0"/>
<ellipse cx="646.4" cy="198.6" rx="1.4" ry="1.9" style="stroke-width:1.0;"/>
<ellipse cx="620.3" cy="190" rx="1.2" ry="0.9" style="stroke-width:0.9;"/>
<ellipse cx="628.8" cy="205.6" rx="1.2" ry="1.1" style="stroke-width:0.9;"/>
<path d="M618.7,202.9 L615,208.4" style="stroke-width:1.1"/>
<path d="M624.9,205.9 L621.2,212.7" style="stroke-width:1.1"/>
<path d="M492.1,367.3 L524.7,370.4" style="stroke-width:2.0"/>
<ellipse cx="490" cy="363.2" rx="2.7" ry="1.5" style="stroke-width:1.2;fill:#fff;"/>
<path d="M488.5,364.6 L488.6,368.8 L491.4,369 L491.5,364.6" style="stroke-width:1.2"/>
<ellipse cx="525.9" cy="367.8" rx="2.7" ry="1.5" style="stroke-width:1.2;fill:#fff;"/>
<path d="M524.4,369.2 L524.5,373.4 L527.3,373.6 L527.4,369.2" style="stroke-width:1.2"/>
<path d="M487.8,376.4 L525.1,380.5" style="stroke-width:2.0"/>
<ellipse cx="487.8" cy="376.4" rx="2.3" ry="1.5" transform="rotate(8 487.8 376.4)" style="stroke-width:1.5;fill:#fff;"/>
<ellipse cx="487.8" cy="376.4" rx="0.9" ry="0.6" transform="rotate(8 487.8 376.4)" style="stroke-width:0.8;fill:#999;"/>
<ellipse cx="525.1" cy="380.5" rx="2.3" ry="1.5" transform="rotate(8 525.1 380.5)" style="stroke-width:1.5;fill:#fff;"/>
<ellipse cx="525.1" cy="380.5" rx="0.9" ry="0.6" transform="rotate(8 525.1 380.5)" style="stroke-width:0.8;fill:#999;"/>
<path d="M486.5,386 L523.6,390" style="stroke-width:2.0"/>
<ellipse cx="486.5" cy="386" rx="2.3" ry="1.5" transform="rotate(8 486.5 386)" style="stroke-width:1.5;fill:#fff;"/>
<ellipse cx="486.5" cy="386" rx="0.9" ry="0.6" transform="rotate(8 486.5 386)" style="stroke-width:0.8;fill:#999;"/>
<ellipse cx="523.6" cy="390" rx="2.3" ry="1.5" transform="rotate(8 523.6 390)" style="stroke-width:1.5;fill:#fff;"/>
<ellipse cx="523.6" cy="390" rx="0.9" ry="0.6" transform="rotate(8 523.6 390)" style="stroke-width:0.8;fill:#999;"/>
<path d="M486.3,393.6 L522.6,398.3" style="stroke-width:2.0"/>
<ellipse cx="486.3" cy="393.6" rx="2.3" ry="1.5" transform="rotate(8 486.3 393.6)" style="stroke-width:1.5;fill:#fff;"/>
<ellipse cx="486.3" cy="393.6" rx="0.9" ry="0.6" transform="rotate(8 486.3 393.6)" style="stroke-width:0.8;fill:#999;"/>
<ellipse cx="522.6" cy="398.3" rx="2.3" ry="1.5" transform="rotate(8 522.6 398.3)" style="stroke-width:1.5;fill:#fff;"/>
<ellipse cx="522.6" cy="398.3" rx="0.9" ry="0.6" transform="rotate(8 522.6 398.3)" style="stroke-width:0.8;fill:#999;"/>
<path d="M485,403.5 L521.2,408.2" style="stroke-width:2.0"/>
<ellipse cx="485" cy="403.5" rx="2.3" ry="1.5" transform="rotate(8 485 403.5)" style="stroke-width:1.5;fill:#fff;"/>
<ellipse cx="485" cy="403.5" rx="0.9" ry="0.6" transform="rotate(8 485 403.5)" style="stroke-width:0.8;fill:#999;"/>
<ellipse cx="521.2" cy="408.2" rx="2.3" ry="1.5" transform="rotate(8 521.2 408.2)" style="stroke-width:1.5;fill:#fff;"/>
<ellipse cx="521.2" cy="408.2" rx="0.9" ry="0.6" transform="rotate(8 521.2 408.2)" style="stroke-width:0.8;fill:#999;"/>
<path d="M442.9,406.6 L528.6,417.3 L527.6,436 L525.8,436 L524,455.5 L437.9,444.4 Z" style="stroke-width:1.5"/>
<path d="M479.3,411.4 L477.9,427.3 L526,433.8" style="stroke-width:1.3"/>
<ellipse cx="485.7" cy="415.5" rx="2.6" ry="1.9" transform="rotate(8 485.7 415.5)" style="stroke-width:1.6;"/>
<ellipse cx="520" cy="420.5" rx="2.6" ry="1.9" transform="rotate(8 520 420.5)" style="stroke-width:1.6;"/>
<path d="M522.4,440.9 L525,440.9" style="stroke-width:2.0"/>
<ellipse cx="442.9" cy="444.6" rx="0.9" ry="0.8" style="fill:#000;"/>
<ellipse cx="478.4" cy="448.8" rx="1" ry="0.9" style="fill:#000;"/>
<ellipse cx="517.2" cy="453.9" rx="0.9" ry="0.8" style="fill:#000;"/>
<path d="M446.4,452.4 L477.6,456.9 L515,461.4" style="stroke-width:2.0"/>
<ellipse cx="446.4" cy="452.4" rx="2.3" ry="1.5" transform="rotate(8 446.4 452.4)" style="stroke-width:1.5;fill:#fff;"/>
<ellipse cx="446.4" cy="452.4" rx="0.9" ry="0.6" transform="rotate(8 446.4 452.4)" style="stroke-width:0.8;fill:#999;"/>
<ellipse cx="477.6" cy="456.9" rx="2.3" ry="1.5" transform="rotate(8 477.6 456.9)" style="stroke-width:1.5;fill:#fff;"/>
<ellipse cx="477.6" cy="456.9" rx="0.9" ry="0.6" transform="rotate(8 477.6 456.9)" style="stroke-width:0.8;fill:#999;"/>
<ellipse cx="515" cy="461.4" rx="2.3" ry="1.5" transform="rotate(8 515 461.4)" style="stroke-width:1.5;fill:#fff;"/>
<ellipse cx="515" cy="461.4" rx="0.9" ry="0.6" transform="rotate(8 515 461.4)" style="stroke-width:0.8;fill:#999;"/>
<path d="M444.3,461 L476.4,466.4 L514.3,470.8" style="stroke-width:2.0"/>
<ellipse cx="444.3" cy="461" rx="2.3" ry="1.5" transform="rotate(8 444.3 461)" style="stroke-width:1.5;fill:#fff;"/>
<ellipse cx="444.3" cy="461" rx="0.9" ry="0.6" transform="rotate(8 444.3 461)" style="stroke-width:0.8;fill:#999;"/>
<ellipse cx="476.4" cy="466.4" rx="2.3" ry="1.5" transform="rotate(8 476.4 466.4)" style="stroke-width:1.5;fill:#fff;"/>
<ellipse cx="476.4" cy="466.4" rx="0.9" ry="0.6" transform="rotate(8 476.4 466.4)" style="stroke-width:0.8;fill:#999;"/>
<ellipse cx="514.3" cy="470.8" rx="2.3" ry="1.5" transform="rotate(8 514.3 470.8)" style="stroke-width:1.5;fill:#fff;"/>
<ellipse cx="514.3" cy="470.8" rx="0.9" ry="0.6" transform="rotate(8 514.3 470.8)" style="stroke-width:0.8;fill:#999;"/>
<path d="M442.1,470.7 L474.3,475.8 L512.5,480.7" style="stroke-width:2.0"/>
<ellipse cx="442.1" cy="470.7" rx="2.3" ry="1.5" transform="rotate(8 442.1 470.7)" style="stroke-width:1.5;fill:#fff;"/>
<ellipse cx="442.1" cy="470.7" rx="0.9" ry="0.6" transform="rotate(8 442.1 470.7)" style="stroke-width:0.8;fill:#999;"/>
<ellipse cx="474.3" cy="475.8" rx="2.3" ry="1.5" transform="rotate(8 474.3 475.8)" style="stroke-width:1.5;fill:#fff;"/>
<ellipse cx="474.3" cy="475.8" rx="0.9" ry="0.6" transform="rotate(8 474.3 475.8)" style="stroke-width:0.8;fill:#999;"/>
<ellipse cx="512.5" cy="480.7" rx="2.3" ry="1.5" transform="rotate(8 512.5 480.7)" style="stroke-width:1.5;fill:#fff;"/>
<ellipse cx="512.5" cy="480.7" rx="0.9" ry="0.6" transform="rotate(8 512.5 480.7)" style="stroke-width:0.8;fill:#999;"/>
<path d="M441.4,481.3 L473.6,486.4 L511.1,490.7" style="stroke-width:2.0"/>
<ellipse cx="441.4" cy="481.3" rx="2.3" ry="1.5" transform="rotate(8 441.4 481.3)" style="stroke-width:1.5;fill:#fff;"/>
<ellipse cx="441.4" cy="481.3" rx="0.9" ry="0.6" transform="rotate(8 441.4 481.3)" style="stroke-width:0.8;fill:#999;"/>
<ellipse cx="473.6" cy="486.4" rx="2.3" ry="1.5" transform="rotate(8 473.6 486.4)" style="stroke-width:1.5;fill:#fff;"/>
<ellipse cx="473.6" cy="486.4" rx="0.9" ry="0.6" transform="rotate(8 473.6 486.4)" style="stroke-width:0.8;fill:#999;"/>
<ellipse cx="511.1" cy="490.7" rx="2.3" ry="1.5" transform="rotate(8 511.1 490.7)" style="stroke-width:1.5;fill:#fff;"/>
<ellipse cx="511.1" cy="490.7" rx="0.9" ry="0.6" transform="rotate(8 511.1 490.7)" style="stroke-width:0.8;fill:#999;"/>
<path d="M437.1,489.6 L471.4,497.6 L507.9,502.2" style="stroke-width:1.6"/>
<path d="M435.7,487.2 L435.5,493.2 L438.7,493.4 L438.9,487.4 Z" style="stroke-width:1.3;fill:#fff"/>
<ellipse cx="437.2" cy="487.2" rx="1.7" ry="0.9" style="stroke-width:1.0;fill:#fff;"/>
<path d="M469.9,495 L469.7,501 L472.9,501.2 L473.1,495.2 Z" style="stroke-width:1.3;fill:#fff"/>
<ellipse cx="471.4" cy="495" rx="1.7" ry="0.9" style="stroke-width:1.0;fill:#fff;"/>
<path d="M506.4,499.4 L506.2,505.4 L509.4,505.6 L509.6,499.6 Z" style="stroke-width:1.3;fill:#fff"/>
<ellipse cx="507.9" cy="499.4" rx="1.7" ry="0.9" style="stroke-width:1.0;fill:#fff;"/>
</g>
<g font-family="Liberation Sans, Arial, sans-serif" font-size="12" text-anchor="middle" fill="#000" stroke="#000" stroke-width="0.22" style="filter:grayscale(1)">
<rect x="349" y="85" width="20" height="20" fill="#e9e9e9" stroke="none"/>
<path d="M349.5,105 V85.5 H369" fill="none" stroke="#fff" stroke-width="1"/>
<path d="M369,85 V105 H349 L350.6,103.2 H367.4 V86.6 Z" fill="#7c7c7c" stroke="none"/>
<path d="M368.6,85.5 V104.6 H349.5" fill="none" stroke="#5a5a5a" stroke-width="0.8"/>
<text transform="translate(359.5,99.7) scale(0.84,1)">6</text>
<rect x="138" y="229" width="20" height="20" fill="#e9e9e9" stroke="none"/>
<path d="M138.5,249 V229.5 H158" fill="none" stroke="#fff" stroke-width="1"/>
<path d="M158,229 V249 H138 L139.6,247.2 H156.4 V230.6 Z" fill="#7c7c7c" stroke="none"/>
<path d="M157.6,229.5 V248.6 H138.5" fill="none" stroke="#5a5a5a" stroke-width="0.8"/>
<text transform="translate(148.5,243.7) scale(0.84,1)">18</text>
<rect x="109" y="293" width="20" height="20" fill="#e9e9e9" stroke="none"/>
<path d="M109.5,313 V293.5 H129" fill="none" stroke="#fff" stroke-width="1"/>
<path d="M129,293 V313 H109 L110.6,311.2 H127.4 V294.6 Z" fill="#7c7c7c" stroke="none"/>
<path d="M128.6,293.5 V312.6 H109.5" fill="none" stroke="#5a5a5a" stroke-width="0.8"/>
<text transform="translate(119.5,307.7) scale(0.84,1)">17</text>
<rect x="355" y="338" width="20" height="20" fill="#e9e9e9" stroke="none"/>
<path d="M355.5,358 V338.5 H375" fill="none" stroke="#fff" stroke-width="1"/>
<path d="M375,338 V358 H355 L356.6,356.2 H373.4 V339.6 Z" fill="#7c7c7c" stroke="none"/>
<path d="M374.6,338.5 V357.6 H355.5" fill="none" stroke="#5a5a5a" stroke-width="0.8"/>
<text transform="translate(365.5,352.7) scale(0.84,1)">12</text>
<rect x="355" y="371" width="20" height="20" fill="#e9e9e9" stroke="none"/>
<path d="M355.5,391 V371.5 H375" fill="none" stroke="#fff" stroke-width="1"/>
<path d="M375,371 V391 H355 L356.6,389.2 H373.4 V372.6 Z" fill="#7c7c7c" stroke="none"/>
<path d="M374.6,371.5 V390.6 H355.5" fill="none" stroke="#5a5a5a" stroke-width="0.8"/>
<text transform="translate(365.5,385.7) scale(0.84,1)">2</text>
<rect x="156" y="457" width="20" height="20" fill="#e9e9e9" stroke="none"/>
<path d="M156.5,477 V457.5 H176" fill="none" stroke="#fff" stroke-width="1"/>
<path d="M176,457 V477 H156 L157.6,475.2 H174.4 V458.6 Z" fill="#7c7c7c" stroke="none"/>
<path d="M175.6,457.5 V476.6 H156.5" fill="none" stroke="#5a5a5a" stroke-width="0.8"/>
<text transform="translate(166.5,471.7) scale(0.84,1)">6</text>
<rect x="662" y="85" width="20" height="20" fill="#e9e9e9" stroke="none"/>
<path d="M662.5,105 V85.5 H682" fill="none" stroke="#fff" stroke-width="1"/>
<path d="M682,85 V105 H662 L663.6,103.2 H680.4 V86.6 Z" fill="#7c7c7c" stroke="none"/>
<path d="M681.6,85.5 V104.6 H662.5" fill="none" stroke="#5a5a5a" stroke-width="0.8"/>
<text transform="translate(672.5,99.7) scale(0.84,1)">16</text>
<rect x="603" y="116" width="20" height="20" fill="#e9e9e9" stroke="none"/>
<path d="M603.5,136 V116.5 H623" fill="none" stroke="#fff" stroke-width="1"/>
<path d="M623,116 V136 H603 L604.6,134.2 H621.4 V117.6 Z" fill="#7c7c7c" stroke="none"/>
<path d="M622.6,116.5 V135.6 H603.5" fill="none" stroke="#5a5a5a" stroke-width="0.8"/>
<text transform="translate(613.5,130.7) scale(0.84,1)">15</text>
<rect x="577" y="145" width="20" height="20" fill="#e9e9e9" stroke="none"/>
<path d="M577.5,165 V145.5 H597" fill="none" stroke="#fff" stroke-width="1"/>
<path d="M597,145 V165 H577 L578.6,163.2 H595.4 V146.6 Z" fill="#7c7c7c" stroke="none"/>
<path d="M596.6,145.5 V164.6 H577.5" fill="none" stroke="#5a5a5a" stroke-width="0.8"/>
<text transform="translate(587.5,159.7) scale(0.84,1)">9</text>
<rect x="681" y="174" width="20" height="20" fill="#e9e9e9" stroke="none"/>
<path d="M681.5,194 V174.5 H701" fill="none" stroke="#fff" stroke-width="1"/>
<path d="M701,174 V194 H681 L682.6,192.2 H699.4 V175.6 Z" fill="#7c7c7c" stroke="none"/>
<path d="M700.6,174.5 V193.6 H681.5" fill="none" stroke="#5a5a5a" stroke-width="0.8"/>
<text transform="translate(691.5,188.7) scale(0.84,1)">8</text>
<rect x="549" y="183" width="20" height="20" fill="#e9e9e9" stroke="none"/>
<path d="M549.5,203 V183.5 H569" fill="none" stroke="#fff" stroke-width="1"/>
<path d="M569,183 V203 H549 L550.6,201.2 H567.4 V184.6 Z" fill="#7c7c7c" stroke="none"/>
<path d="M568.6,183.5 V202.6 H549.5" fill="none" stroke="#5a5a5a" stroke-width="0.8"/>
<text transform="translate(559.5,197.7) scale(0.84,1)">1</text>
<rect x="549" y="214" width="20" height="20" fill="#e9e9e9" stroke="none"/>
<path d="M549.5,234 V214.5 H569" fill="none" stroke="#fff" stroke-width="1"/>
<path d="M569,214 V234 H549 L550.6,232.2 H567.4 V215.6 Z" fill="#7c7c7c" stroke="none"/>
<path d="M568.6,214.5 V233.6 H549.5" fill="none" stroke="#5a5a5a" stroke-width="0.8"/>
<text transform="translate(559.5,228.7) scale(0.84,1)">10</text>
<rect x="650" y="224" width="20" height="20" fill="#e9e9e9" stroke="none"/>
<path d="M650.5,244 V224.5 H670" fill="none" stroke="#fff" stroke-width="1"/>
<path d="M670,224 V244 H650 L651.6,242.2 H668.4 V225.6 Z" fill="#7c7c7c" stroke="none"/>
<path d="M669.6,224.5 V243.6 H650.5" fill="none" stroke="#5a5a5a" stroke-width="0.8"/>
<text transform="translate(660.5,238.7) scale(0.84,1)">10</text>
<rect x="494" y="268" width="20" height="20" fill="#e9e9e9" stroke="none"/>
<path d="M494.5,288 V268.5 H514" fill="none" stroke="#fff" stroke-width="1"/>
<path d="M514,268 V288 H494 L495.6,286.2 H512.4 V269.6 Z" fill="#7c7c7c" stroke="none"/>
<path d="M513.6,268.5 V287.6 H494.5" fill="none" stroke="#5a5a5a" stroke-width="0.8"/>
<text transform="translate(504.5,282.7) scale(0.84,1)">14</text>
<rect x="515" y="282" width="18" height="20" fill="#e9e9e9" stroke="none"/>
<path d="M515.5,302 V282.5 H533" fill="none" stroke="#fff" stroke-width="1"/>
<path d="M533,282 V302 H515 L516.6,300.2 H531.4 V283.6 Z" fill="#7c7c7c" stroke="none"/>
<path d="M532.6,282.5 V301.6 H515.5" fill="none" stroke="#5a5a5a" stroke-width="0.8"/>
<text transform="translate(524.5,296.7) scale(0.84,1)">13</text>
<rect x="590" y="358" width="20" height="20" fill="#e9e9e9" stroke="none"/>
<path d="M590.5,378 V358.5 H610" fill="none" stroke="#fff" stroke-width="1"/>
<path d="M610,358 V378 H590 L591.6,376.2 H608.4 V359.6 Z" fill="#7c7c7c" stroke="none"/>
<path d="M609.6,358.5 V377.6 H590.5" fill="none" stroke="#5a5a5a" stroke-width="0.8"/>
<text transform="translate(600.5,372.7) scale(0.84,1)">11</text>
<rect x="444" y="365" width="20" height="20" fill="#e9e9e9" stroke="none"/>
<path d="M444.5,385 V365.5 H464" fill="none" stroke="#fff" stroke-width="1"/>
<path d="M464,365 V385 H444 L445.6,383.2 H462.4 V366.6 Z" fill="#7c7c7c" stroke="none"/>
<path d="M463.6,365.5 V384.6 H444.5" fill="none" stroke="#5a5a5a" stroke-width="0.8"/>
<text transform="translate(454.5,379.7) scale(0.84,1)">4</text>
<rect x="590" y="380" width="20" height="20" fill="#e9e9e9" stroke="none"/>
<path d="M590.5,400 V380.5 H610" fill="none" stroke="#fff" stroke-width="1"/>
<path d="M610,380 V400 H590 L591.6,398.2 H608.4 V381.6 Z" fill="#7c7c7c" stroke="none"/>
<path d="M609.6,380.5 V399.6 H590.5" fill="none" stroke="#5a5a5a" stroke-width="0.8"/>
<text transform="translate(600.5,394.7) scale(0.84,1)">4</text>
<rect x="444" y="385" width="20" height="20" fill="#e9e9e9" stroke="none"/>
<path d="M444.5,405 V385.5 H464" fill="none" stroke="#fff" stroke-width="1"/>
<path d="M464,385 V405 H444 L445.6,403.2 H462.4 V386.6 Z" fill="#7c7c7c" stroke="none"/>
<path d="M463.6,385.5 V404.6 H444.5" fill="none" stroke="#5a5a5a" stroke-width="0.8"/>
<text transform="translate(454.5,399.7) scale(0.84,1)">5</text>
<rect x="590" y="399" width="20" height="20" fill="#e9e9e9" stroke="none"/>
<path d="M590.5,419 V399.5 H610" fill="none" stroke="#fff" stroke-width="1"/>
<path d="M610,399 V419 H590 L591.6,417.2 H608.4 V400.6 Z" fill="#7c7c7c" stroke="none"/>
<path d="M609.6,399.5 V418.6 H590.5" fill="none" stroke="#5a5a5a" stroke-width="0.8"/>
<text transform="translate(600.5,413.7) scale(0.84,1)">3</text>
<rect x="542" y="431" width="20" height="20" fill="#e9e9e9" stroke="none"/>
<path d="M542.5,451 V431.5 H562" fill="none" stroke="#fff" stroke-width="1"/>
<path d="M562,431 V451 H542 L543.6,449.2 H560.4 V432.6 Z" fill="#7c7c7c" stroke="none"/>
<path d="M561.6,431.5 V450.6 H542.5" fill="none" stroke="#5a5a5a" stroke-width="0.8"/>
<text transform="translate(552.5,445.7) scale(0.84,1)">7</text>
<rect x="589" y="452" width="20" height="19" fill="#e9e9e9" stroke="none"/>
<path d="M589.5,471 V452.5 H609" fill="none" stroke="#fff" stroke-width="1"/>
<path d="M609,452 V471 H589 L590.6,469.2 H607.4 V453.6 Z" fill="#7c7c7c" stroke="none"/>
<path d="M608.6,452.5 V470.6 H589.5" fill="none" stroke="#5a5a5a" stroke-width="0.8"/>
<text transform="translate(599.5,466.7) scale(0.84,1)">3</text>
<rect x="542" y="462" width="19" height="17" fill="#e9e9e9" stroke="none"/>
<path d="M542.5,479 V462.5 H561" fill="none" stroke="#fff" stroke-width="1"/>
<path d="M561,462 V479 H542 L543.6,477.2 H559.4 V463.6 Z" fill="#7c7c7c" stroke="none"/>
<path d="M560.6,462.5 V478.6 H542.5" fill="none" stroke="#5a5a5a" stroke-width="0.8"/>
<text transform="translate(552.0,474.7) scale(0.84,1)">5</text>
<rect x="589" y="472" width="20" height="20" fill="#e9e9e9" stroke="none"/>
<path d="M589.5,492 V472.5 H609" fill="none" stroke="#fff" stroke-width="1"/>
<path d="M609,472 V492 H589 L590.6,490.2 H607.4 V473.6 Z" fill="#7c7c7c" stroke="none"/>
<path d="M608.6,472.5 V491.6 H589.5" fill="none" stroke="#5a5a5a" stroke-width="0.8"/>
<text transform="translate(599.5,486.7) scale(0.84,1)">4</text>
<rect x="541" y="482" width="20" height="19" fill="#e9e9e9" stroke="none"/>
<path d="M541.5,501 V482.5 H561" fill="none" stroke="#fff" stroke-width="1"/>
<path d="M561,482 V501 H541 L542.6,499.2 H559.4 V483.6 Z" fill="#7c7c7c" stroke="none"/>
<path d="M560.6,482.5 V500.6 H541.5" fill="none" stroke="#5a5a5a" stroke-width="0.8"/>
<text transform="translate(551.5,496.7) scale(0.84,1)">4</text>
<rect x="589" y="494" width="20" height="20" fill="#e9e9e9" stroke="none"/>
<path d="M589.5,514 V494.5 H609" fill="none" stroke="#fff" stroke-width="1"/>
<path d="M609,494 V514 H589 L590.6,512.2 H607.4 V495.6 Z" fill="#7c7c7c" stroke="none"/>
<path d="M608.6,494.5 V513.6 H589.5" fill="none" stroke="#5a5a5a" stroke-width="0.8"/>
<text transform="translate(599.5,508.7) scale(0.84,1)">11</text>
</g></svg>
</body></html>
